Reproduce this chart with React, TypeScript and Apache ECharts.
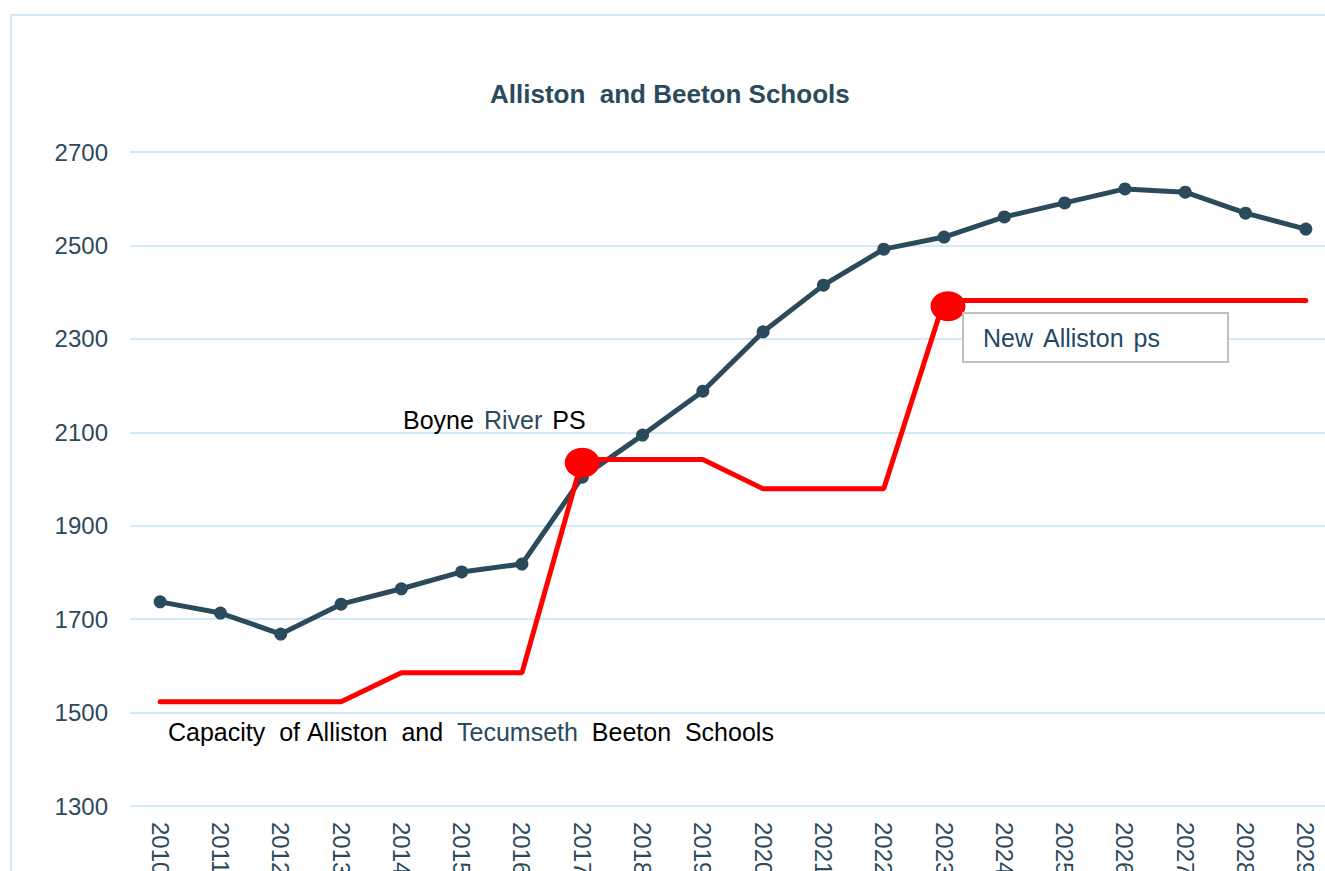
import React, { useEffect, useRef } from "react";
import * as echarts from "echarts";

const years = ["2010","2011","2012","2013","2014","2015","2016","2017","2018","2019","2020","2021","2022","2023","2024","2025","2026","2027","2028","2029"];
const enrolment = [1737,1713,1668,1732,1765,1801,1818,2004,2094,2188,2315,2415,2492,2518,2561,2591,2621,2614,2569,2535];
const capacity = [1523,1523,1523,1523,1585,1585,1585,2042,2042,2042,1979,1979,1979,2382,2382,2382,2382,2382,2382,2382];
const highlights = [null,null,null,null,null,null,null,2035,null,null,null,null,null,2370,null,null,null,null,null,null];
const yTicks = { min: 1300, max: 2700, interval: 200 };

const slate = "#2b4a5c";
const grid = "#d2eaf8";
const font = "Arial, Liberation Sans";

const richStyles = {
  a: { fontFamily: font, fontSize: 25, fill: "#000", lineHeight: 30 },
  b: { fontFamily: font, fontSize: 25, fill: slate, lineHeight: 30 },
  n: { fontFamily: font, fontSize: 25, fill: "#1f4a66", lineHeight: 30 },
  s: { fontFamily: font, fontSize: 25, lineHeight: 30 },
  m: { fontFamily: font, fontSize: 36, lineHeight: 30 },
  l: { fontFamily: font, fontSize: 50, lineHeight: 30 },
};

export default function App() {
  const ref = useRef<HTMLDivElement>(null);
  useEffect(() => {
    const chart = echarts.init(ref.current!, null, { renderer: "svg" });
    chart.setOption({
      animation: false,
      backgroundColor: "#fff",
      title: {
        text: "Alliston  and Beeton Schools",
        left: 490,
        top: 81,
        padding: 0,
        textStyle: { fontFamily: font, fontSize: 26, fontWeight: "bold", color: slate },
      },
      grid: { left: 130, right: -11, top: 152, bottom: 65, containLabel: false, outerBoundsMode: "none" },
      xAxis: {
        type: "category",
        data: years,
        boundaryGap: true,
        axisLine: { show: false },
        axisTick: { show: false },
        axisLabel: { rotate: -90, margin: 16, fontFamily: font, fontSize: 24, color: slate, interval: 0 },
      },
      yAxis: {
        type: "value",
        min: yTicks.min,
        max: yTicks.max,
        interval: yTicks.interval,
        axisLine: { show: false },
        axisTick: { show: false },
        axisLabel: { margin: 22, fontFamily: font, fontSize: 24, color: slate, formatter: (v: number) => String(v) },
        splitLine: { lineStyle: { color: grid, width: 2 } },
      },
      series: [
        {
          name: "Enrolment",
          type: "line",
          data: enrolment,
          symbol: "circle",
          symbolSize: 13,
          itemStyle: { color: slate },
          lineStyle: { color: slate, width: 5 },
          z: 2,
        },
        {
          name: "Capacity",
          type: "line",
          data: capacity,
          symbol: "none",
          lineStyle: { color: "#ff0000", width: 5, cap: "round" },
          z: 3,
        },
        {
          name: "New schools",
          type: "scatter",
          data: highlights.map((v, i) => (v == null ? null : { value: v, symbolOffset: i === 13 ? [4, 0] : [0, 0] })),
          symbol: "circle",
          symbolSize: [35, 30],
          itemStyle: { color: "#ff0000", opacity: 1 },
          z: 4,
        },
      ],
      graphic: [
        {
          type: "rect",
          shape: { x: 11, y: 15, width: 1400, height: 900 },
          style: { fill: "none", stroke: "#cfe8fa", lineWidth: 2 },
          silent: true,
          z: -1,
        },
        {
          type: "text",
          x: 403,
          y: 420,
          style: {
            text: "{a|Boyne}{m| }{b|River}{m| }{a|PS}",
            verticalAlign: "middle",
            rich: richStyles,
          },
          z: 10,
        },
        {
          type: "text",
          x: 168,
          y: 732,
          style: {
            text: "{a|Capacity}{l| }{a|of}{s| }{a|Alliston}{l| }{a|and}{l| }{b|Tecumseth}{l| }{a|Beeton}{l| }{a|Schools}",
            verticalAlign: "middle",
            rich: richStyles,
          },
          z: 10,
        },
        {
          type: "rect",
          shape: { x: 963, y: 313, width: 265, height: 49 },
          style: { fill: "#fff", stroke: "#bfbfbf", lineWidth: 2 },
          z: 9,
        },
        {
          type: "text",
          x: 983,
          y: 338,
          style: {
            text: "{n|New}{m| }{n|Alliston}{m| }{n|ps}",
            verticalAlign: "middle",
            rich: richStyles,
          },
          z: 10,
        },
      ],
    });
    return () => chart.dispose();
  }, []);
  return <div ref={ref} style={{ position: "fixed", left: 0, top: 0, width: 1325, height: 871 }} />;
}
